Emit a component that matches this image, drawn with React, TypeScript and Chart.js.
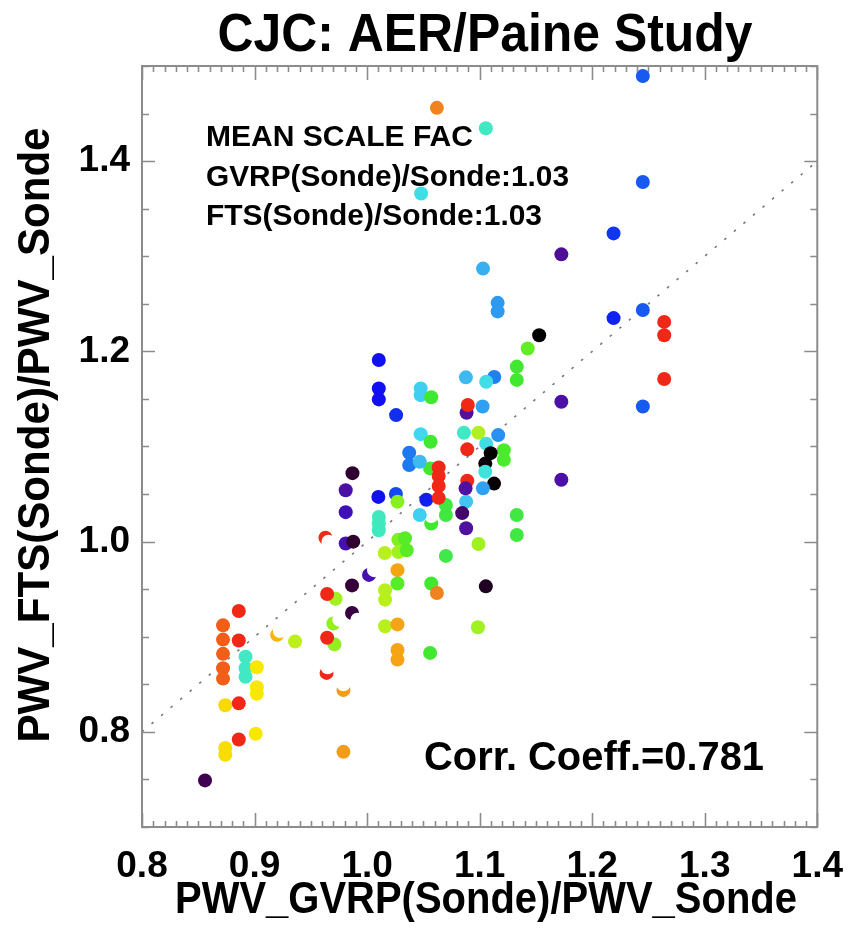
import { useEffect, useRef } from 'react';
import { Chart, registerables } from 'chart.js';

Chart.register(...registerables);

// ---------- text ----------
const chartTitle = 'CJC: AER/Paine Study';
const xAxisTitle = 'PWV_GVRP(Sonde)/PWV_Sonde';
const yAxisTitle = 'PWV_FTS(Sonde)/PWV_Sonde';
const annotationLines = ['MEAN SCALE FAC', 'GVRP(Sonde)/Sonde:1.03', 'FTS(Sonde)/Sonde:1.03'];
const corrText = 'Corr. Coeff.=0.781';

// ---------- axes ----------
const xRange = [0.8, 1.4];
const yRange = [0.7, 1.5];
const xTickValues = [0.8, 0.9, 1.0, 1.1, 1.2, 1.3, 1.4];
const yTickValues = [0.8, 1.0, 1.2, 1.4];
const xMinorStep = 0.01;
const yMinorStep = 0.05;

// 1:1 reference line
const oneToOneX = [0.8, 1.4];
const oneToOneY = [0.8, 1.4];

// ---------- data (GVRP ratio, FTS ratio, colour index 0..255) ----------
const xValues = [
  0.872, 0.872, 0.872, 0.872, 0.872,
  0.886, 0.886,
  0.892, 0.892, 0.892,
  0.902, 0.902, 0.902,
  0.874, 0.886, 0.901, 0.886,
  0.874, 0.874,
  0.856,
  0.920, 0.9225,
  0.936,
  0.972, 0.9645,
  0.9866,
  1.0017, 1.0062,
  0.9866, 0.9914,
  0.970, 0.9753,
  0.971, 0.9645,
  0.964, 0.965,
  0.979, 0.979,
  0.979,
  1.016, 1.016, 1.016,
  1.027, 1.027, 1.027, 1.027,
  1.027,
  1.057, 1.062,
  1.1055,
  1.0985,
  1.056,
  0.963, 0.9657,
  0.981, 0.9877,
  1.0157,
  1.0278, 1.0337, 1.0278, 1.0352,
  1.099,
  1.070,
  1.0104, 1.0104, 1.0104,
  0.981, 0.981, 0.987,
  1.010,
  1.0256, 1.027,
  1.0526,
  1.070, 1.070,
  1.088,
  1.0845, 1.088,
  1.057, 1.057,
  1.0468,
  1.133, 1.133,
  1.056,
  1.0636, 1.0636, 1.0636, 1.0636,
  1.0374, 1.0374,
  1.0468,
  1.0476, 1.0564,
  1.086, 1.099,
  1.1165,
  1.1058,
  1.089,
  1.1215, 1.1215,
  1.1098, 1.105,
  1.105,
  1.1128,
  1.089,
  1.0875,
  1.1029,
  1.0884, 1.0895,
  1.1026,
  1.1726, 1.1726,
  1.0104, 1.0104, 1.0104,
  1.0258,
  1.0476, 1.0476, 1.057,
  1.0878,
  1.113,
  1.1058,
  1.133, 1.133,
  1.1427,
  1.1529,
  1.116, 1.116,
  1.103,
  1.1726,
  1.219, 1.219,
  1.245,
  1.264, 1.264, 1.264,
  1.245,
  1.245, 1.245,
  1.1055,
  1.062,
  1.048,
];

const yValues = [
  0.912, 0.897, 0.882, 0.867, 0.856,
  0.927, 0.896,
  0.879, 0.867, 0.858,
  0.868, 0.847, 0.840,
  0.828, 0.830, 0.798, 0.792,
  0.783, 0.776,
  0.749,
  0.902, 0.906,
  0.895,
  0.940, 0.945,
  0.954,
  0.965, 0.970,
  0.925, 0.918,
  0.914, 0.918,
  0.892, 0.899,
  0.862, 0.868,
  0.844, 0.850,
  0.779,
  0.949, 0.939, 0.911,
  0.970, 0.913, 0.886, 0.876,
  0.956,
  0.956, 0.946,
  0.953,
  0.910,
  0.883,
  1.004, 1.000,
  0.998, 1.000,
  0.988,
  1.002, 1.0035, 0.989, 0.991,
  0.9975,
  0.985,
  1.026, 1.019, 1.012,
  1.031, 1.054, 1.072,
  1.047,
  1.050, 1.042,
  1.044,
  1.0385, 1.028,
  1.042,
  1.030, 1.014,
  1.019, 1.027,
  1.028,
  1.028, 1.007,
  1.077,
  1.078, 1.069, 1.0585, 1.046,
  1.0935, 1.0805,
  1.084,
  1.113, 1.105,
  1.1145, 1.1145,
  1.112,
  1.103,
  1.097,
  1.096, 1.086,
  1.093, 1.082,
  1.0735,
  1.061,
  1.064,
  1.056,
  1.056,
  1.1355, 1.1436,
  1.142,
  1.147, 1.065,
  1.191, 1.161, 1.1495,
  1.133,
  1.161, 1.154, 1.1517,
  1.1727,
  1.173,
  1.168,
  1.184, 1.170,
  1.203,
  1.217,
  1.251, 1.242,
  1.287,
  1.302,
  1.324, 1.235,
  1.2435,
  1.231, 1.217, 1.171,
  1.142,
  1.378, 1.4895,
  1.4345,
  1.456,
  1.366,
];

const colourIndex = [
  234, 234, 234, 234, 234,
  245, 245,
  127, 127, 127,
  190, 190, 190,
  196, 245, 190, 245,
  194, 194,
  25,
  208, 255,
  172,
  165, 245,
  18,
  45, 255,
  20, 255,
  162, 255,
  162, 245,
  245, 255,
  215, 255,
  215,
  170, 170, 170,
  213, 213, 213, 213,
  150,
  145, 222,
  10,
  165,
  145,
  245, 255,
  45, 15,
  170,
  158, 150, 165, 150,
  165,
  142,
  128, 128, 128,
  48, 42, 15,
  62,
  75, 160,
  65,
  143, 143,
  112,
  30, 40,
  145, 255,
  115,
  143, 143,
  145,
  245, 245, 245, 245,
  88, 88,
  108,
  118, 145,
  127, 168,
  95,
  120,
  245,
  147, 147,
  0, 3,
  123,
  2,
  245,
  40,
  100,
  40, 245,
  100,
  42, 42,
  62, 62, 62,
  68,
  115, 115, 145,
  108,
  90,
  120,
  145, 145,
  152,
  0,
  98, 98,
  105,
  38,
  70, 66,
  80,
  245, 245, 245,
  80,
  80, 80,
  127,
  222,
  120,
];

// ---------- colour table (rainbow + white) ----------
const colourStops: [number, string][] = [
  [0, '#000000'], [15, '#300030'], [25, '#400050'], [40, '#5010a0'], [55, '#3010d0'],
  [62, '#1010f0'], [72, '#1040f0'], [82, '#1860f0'], [90, '#2080f0'], [100, '#30a0f0'],
  [110, '#40c0f0'], [118, '#40d8f0'], [125, '#40e8d0'], [130, '#40e8b0'], [145, '#40e830'],
  [155, '#70f020'], [168, '#b0f020'], [180, '#d8f010'], [190, '#f8e800'], [200, '#f8d000'],
  [210, '#f8b010'], [218, '#f09020'], [228, '#f07018'], [236, '#f05818'], [245, '#f02818'],
  [254, '#f02010'], [255, '#ffffff'],
];

function hexToRgb(h: string) {
  return [parseInt(h.slice(1, 3), 16), parseInt(h.slice(3, 5), 16), parseInt(h.slice(5, 7), 16)];
}

function colourFor(idx: number) {
  for (let i = 0; i < colourStops.length - 1; i++) {
    const [a, ca] = colourStops[i];
    const [b, cb] = colourStops[i + 1];
    if (idx >= a && idx <= b) {
      const t = b === a ? 0 : (idx - a) / (b - a);
      const A = hexToRgb(ca);
      const B = hexToRgb(cb);
      const c = A.map((v, k) => Math.round(v + (B[k] - v) * t));
      return `rgb(${c[0]},${c[1]},${c[2]})`;
    }
  }
  return '#ffffff';
}

const FONT = '"Liberation Sans", Arial, Helvetica, sans-serif';

function fitText(
  ctx: CanvasRenderingContext2D,
  text: string,
  x: number,
  y: number,
  size: number,
  width: number,
  align: CanvasTextAlign,
  rotate = 0,
) {
  ctx.save();
  ctx.font = `bold ${size}px ${FONT}`;
  const w = ctx.measureText(text).width;
  const s = width / w;
  ctx.translate(x, y);
  if (rotate) ctx.rotate(rotate);
  ctx.scale(s, 1);
  ctx.textAlign = align;
  ctx.textBaseline = 'alphabetic';
  ctx.fillStyle = '#000000';
  ctx.fillText(text, 0, 0);
  ctx.restore();
}

const framePlugin = {
  id: 'idlFrame',
  afterDraw(chart: any) {
    const ctx: CanvasRenderingContext2D = chart.ctx;
    const { left, right, top, bottom } = chart.chartArea;
    const xs = chart.scales.x;
    const ys = chart.scales.y;
    ctx.save();
    ctx.strokeStyle = '#8c8c8c';
    ctx.lineWidth = 1.6;
    ctx.beginPath();
    const nx = Math.round((xRange[1] - xRange[0]) / xMinorStep);
    for (let i = 0; i <= nx; i++) {
      const v = xRange[0] + i * xMinorStep;
      const px = Math.round(xs.getPixelForValue(v)) + 0.5;
      const len = i % 10 === 0 ? 14 : 6;
      ctx.moveTo(px, bottom);
      ctx.lineTo(px, bottom - len);
      ctx.moveTo(px, top);
      ctx.lineTo(px, top + len);
    }
    const ny = Math.round((yRange[1] - yRange[0]) / yMinorStep);
    for (let i = 0; i <= ny; i++) {
      const v = yRange[0] + i * yMinorStep;
      const py = Math.round(ys.getPixelForValue(v)) + 0.5;
      const major = yTickValues.some((t) => Math.abs(t - v) < 1e-6);
      const len = major ? 13 : 7;
      ctx.moveTo(left, py);
      ctx.lineTo(left + len, py);
      ctx.moveTo(right, py);
      ctx.lineTo(right - len, py);
    }
    ctx.stroke();
    ctx.lineWidth = 2;
    ctx.strokeRect(left, top, right - left, bottom - top);
    ctx.restore();

    fitText(ctx, chartTitle, 485, 51, 54, 535, 'center');
    fitText(ctx, xAxisTitle, 486, 913, 44, 622, 'center');
    fitText(ctx, yAxisTitle, 49, 435, 44, 615, 'center', -Math.PI / 2);
    fitText(ctx, annotationLines[0], 206, 146, 29, 267, 'left');
    fitText(ctx, annotationLines[1], 206, 186, 29, 363, 'left');
    fitText(ctx, annotationLines[2], 206, 225, 29, 336, 'left');
    fitText(ctx, corrText, 424, 770, 40, 340, 'left');
  },
};

export default function App() {
  const canvasRef = useRef<HTMLCanvasElement | null>(null);

  useEffect(() => {
    document.body.style.margin = '0';
    const canvas = canvasRef.current;
    if (!canvas) return;
    const points = xValues.map((x, i) => ({ x, y: yValues[i] }));
    const colours = colourIndex.map(colourFor);
    const linePts = oneToOneX.map((x, i) => ({ x, y: oneToOneY[i] }));

    const tickFont = { family: FONT, size: 37, weight: 'bold' as const };

    const chart = new Chart(canvas, {
      type: 'scatter',
      data: {
        datasets: [
          {
            type: 'scatter',
            data: points,
            pointRadius: 7,
            pointHoverRadius: 7,
            pointBorderWidth: 0,
            pointBackgroundColor: colours,
            pointBorderColor: colours,
            order: 0,
          } as any,
          {
            type: 'line',
            data: linePts,
            showLine: true,
            borderColor: '#777777',
            borderWidth: 1.6,
            borderDash: [2.5, 10],
            pointRadius: 0,
            fill: false,
            order: 1,
          } as any,
        ],
      },
      options: {
        responsive: false,
        animation: false,
        devicePixelRatio: 1,
        layout: { padding: { top: 66, right: 31, left: 0, bottom: 0 } },
        plugins: {
          legend: { display: false },
          tooltip: { enabled: false },
          title: { display: false },
        },
        scales: {
          x: {
            type: 'linear',
            position: 'bottom',
            min: xRange[0],
            max: xRange[1],
            grid: { display: false, drawTicks: false },
            border: { display: false },
            afterBuildTicks: (scale: any) => {
              scale.ticks = xTickValues.map((value) => ({ value }));
            },
            afterFit: (scale: any) => {
              scale.height = 103;
            },
            ticks: {
              font: tickFont,
              color: '#000000',
              padding: 18,
              maxRotation: 0,
              minRotation: 0,
              autoSkip: false,
              callback: (v: any) => Number(v).toFixed(1),
            },
          },
          y: {
            type: 'linear',
            position: 'left',
            min: yRange[0],
            max: yRange[1],
            grid: { display: false, drawTicks: false },
            border: { display: false },
            afterBuildTicks: (scale: any) => {
              scale.ticks = yTickValues.map((value) => ({ value }));
            },
            afterFit: (scale: any) => {
              scale.width = 142;
            },
            ticks: {
              font: tickFont,
              color: '#000000',
              padding: 12,
              autoSkip: false,
              callback: (v: any) => Number(v).toFixed(1),
            },
          },
        },
      },
      plugins: [framePlugin],
    });

    return () => chart.destroy();
  }, []);

  return (
    <div style={{ position: 'absolute', left: 0, top: 0, width: 861, height: 930, background: '#ffffff' }}>
      <canvas ref={canvasRef} width={861} height={930} style={{ display: 'block', width: 861, height: 930 }} />
    </div>
  );
}
